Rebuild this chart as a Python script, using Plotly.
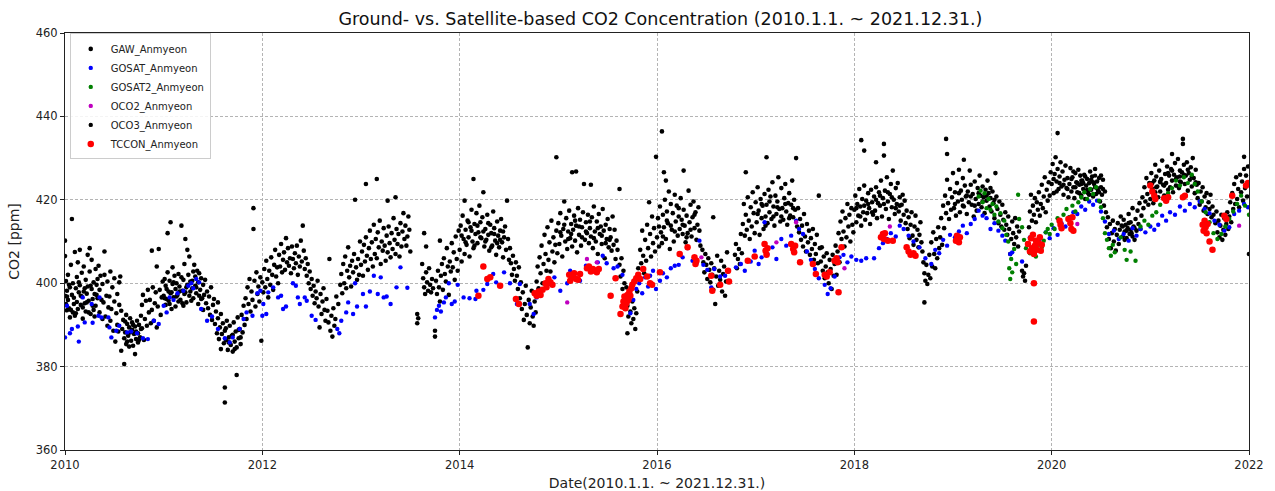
import plotly.graph_objects as go

# ---- data: (decimal year, CO2 ppm) ----
gaw_pts = [
(2010.00,410.2),(2010.00,406.5),(2010.00,397.0),(2010.01,400.5),(2010.01,395.0),(2010.02,393.5),(2010.02,398.2),(2010.03,402.0),(2010.03,396.0),(2010.04,394.0),(2010.05,391.8),(2010.05,399.0),(2010.06,404.4),(2010.07,415.4),(2010.07,397.2),(2010.08,393.0),(2010.08,400.0),(2010.09,396.5),(2010.10,407.5),(2010.10,392.2),(2010.11,398.8),(2010.12,395.5),(2010.12,401.5),(2010.13,405.0),(2010.13,393.8),(2010.14,397.8),(2010.15,408.0),(2010.15,399.5),(2010.16,394.8),(2010.17,402.5),(2010.17,396.8),(2010.18,391.5),(2010.19,398.0),(2010.19,404.0),(2010.20,395.2),(2010.21,400.8),(2010.21,393.2),(2010.22,397.5),(2010.23,406.8),(2010.23,399.2),(2010.24,395.8),(2010.25,408.4),(2010.25,402.8),(2010.26,392.6),(2010.27,398.6),(2010.27,405.6),(2010.28,396.2),(2010.29,400.2),(2010.29,393.6),(2010.30,397.4),(2010.31,403.4),(2010.31,394.6),(2010.32,399.6),(2010.33,396.4),(2010.33,401.0),
(2010.34,404.2),(2010.35,398.4),(2010.35,393.0),(2010.36,401.8),(2010.37,396.0),(2010.38,391.4),(2010.38,399.8),(2010.39,395.4),(2010.40,407.6),(2010.40,402.0),(2010.41,392.0),(2010.42,397.0),(2010.43,400.4),(2010.43,389.8),(2010.44,394.2),(2010.45,396.8),(2010.46,402.8),(2010.46,391.0),(2010.47,393.8),(2010.48,399.0),(2010.49,388.6),(2010.50,395.6),(2010.50,401.2),(2010.51,386.0),(2010.52,392.8),(2010.53,390.0),(2010.53,397.4),(2010.54,388.4),(2010.55,394.8),(2010.55,400.2),
(2010.56,401.6),(2010.57,393.4),(2010.57,383.8),(2010.58,389.0),(2010.59,391.2),(2010.60,380.6),(2010.60,386.8),(2010.61,388.2),(2010.62,392.4),(2010.62,385.4),(2010.63,390.2),(2010.64,387.4),(2010.65,389.4),(2010.65,384.8),(2010.66,391.6),(2010.67,386.2),(2010.68,388.8),(2010.68,390.6),(2010.69,385.0),(2010.70,387.8),(2010.71,389.6),(2010.71,383.0),(2010.72,386.6),(2010.73,391.0),(2010.74,388.0),(2010.74,385.8),(2010.75,390.0),(2010.76,387.0),(2010.77,392.2),(2010.78,394.8),(2010.78,389.2),(2010.79,397.2),(2010.80,386.4),(2010.81,391.4),(2010.82,395.8),(2010.83,389.8),(2010.84,398.4),(2010.85,393.0),
(2010.86,396.0),(2010.87,390.4),(2010.88,407.8),(2010.88,393.6),(2010.89,399.0),(2010.90,391.0),(2010.91,395.2),(2010.92,397.8),(2010.93,404.0),(2010.93,389.4),(2010.94,394.4),(2010.95,408.2),(2010.96,398.4),(2010.97,392.4),(2010.98,396.6),(2010.99,400.4),
(2011.00,397.0),(2011.01,401.0),(2011.02,394.8),(2011.02,399.4),(2011.03,396.2),(2011.04,412.0),(2011.04,402.6),(2011.05,398.0),(2011.06,395.0),(2011.06,400.6),(2011.07,414.6),(2011.07,397.6),(2011.08,393.8),(2011.09,399.8),(2011.09,403.8),(2011.10,396.6),(2011.11,401.8),(2011.12,398.6),(2011.12,394.4),(2011.13,400.0),(2011.14,397.2),(2011.15,402.2),(2011.15,395.6),(2011.16,399.2),(2011.17,396.0),(2011.18,413.8),(2011.18,401.4),(2011.19,398.2),(2011.20,394.6),(2011.20,400.8),(2011.21,404.6),(2011.22,397.8),(2011.22,410.6),(2011.23,395.4),(2011.24,408.0),(2011.24,399.6),(2011.25,402.0),(2011.26,406.4),(2011.26,397.0),(2011.27,400.4),(2011.28,395.8),(2011.29,398.8),(2011.30,402.8),(2011.30,396.4),
(2011.31,404.4),(2011.32,399.4),(2011.32,401.6),(2011.33,397.6),(2011.34,403.0),(2011.35,400.2),(2011.35,395.0),(2011.36,402.4),(2011.37,398.4),(2011.38,401.2),(2011.39,396.4),(2011.40,399.6),(2011.40,393.6),(2011.41,397.2),(2011.42,400.8),(2011.43,395.2),(2011.44,398.0),(2011.45,394.0),(2011.46,396.8),(2011.47,392.4),(2011.48,399.0),(2011.49,391.2),(2011.50,394.8),
(2011.51,396.2),(2011.52,390.2),(2011.53,393.2),(2011.54,388.0),(2011.55,395.4),(2011.55,391.6),(2011.56,386.6),(2011.57,389.4),(2011.58,392.6),(2011.58,384.2),(2011.59,387.8),(2011.60,390.4),(2011.61,385.6),(2011.62,388.6),(2011.62,375.0),(2011.62,371.4),(2011.63,386.4),(2011.64,391.0),(2011.65,384.0),(2011.66,387.0),(2011.67,389.8),(2011.68,385.2),
(2011.69,387.4),(2011.70,383.6),(2011.71,390.6),(2011.72,386.0),(2011.73,388.4),(2011.74,378.0),(2011.74,384.6),(2011.75,391.8),(2011.76,386.8),(2011.77,389.0),(2011.78,385.4),(2011.79,392.4),(2011.80,388.2),(2011.81,394.6),(2011.82,390.0),(2011.83,396.4),(2011.84,391.4),(2011.85,399.0),
(2011.86,395.0),(2011.87,401.0),(2011.88,393.2),(2011.89,398.0),(2011.90,396.0),(2011.91,418.0),(2011.91,413.0),(2011.92,400.6),(2011.93,394.4),(2011.94,402.6),(2011.95,397.4),(2011.96,399.2),(2011.97,395.6),(2011.98,401.4),(2011.99,386.2),
(2012.00,400.2),(2012.01,397.8),(2012.02,403.4),(2012.03,399.0),(2012.04,405.4),(2012.05,401.0),(2012.06,396.6),(2012.07,403.0),(2012.08,399.6),(2012.09,406.2),(2012.10,402.0),(2012.11,398.4),(2012.12,404.4),(2012.13,408.0),(2012.14,401.6),(2012.15,403.8),(2012.16,400.0),(2012.17,406.8),(2012.18,404.0),(2012.19,409.4),(2012.20,402.6),(2012.21,405.6),(2012.22,407.4),(2012.23,403.2),(2012.24,410.8),(2012.25,405.0),(2012.26,408.4),(2012.27,404.2),(2012.28,406.0),(2012.29,402.4),(2012.30,408.8),
(2012.31,405.8),(2012.32,403.6),(2012.33,407.2),(2012.34,404.8),(2012.35,409.0),(2012.36,402.0),(2012.37,406.4),(2012.38,404.0),(2012.39,410.2),(2012.40,405.2),(2012.41,413.8),(2012.42,407.8),(2012.43,403.4),(2012.44,406.0),(2012.45,401.8),(2012.46,404.6),(2012.47,400.0),(2012.48,402.8),(2012.49,398.6),(2012.50,401.0),(2012.51,397.0),(2012.52,399.4),(2012.53,395.2),(2012.54,398.0),(2012.55,396.4),
(2012.56,400.6),(2012.57,394.4),(2012.58,389.4),(2012.59,397.4),(2012.60,392.6),(2012.61,395.6),(2012.62,398.8),(2012.63,393.6),(2012.64,391.0),(2012.65,396.2),(2012.66,393.4),(2012.67,390.6),(2012.68,405.8),(2012.69,388.6),(2012.70,392.2),(2012.71,387.2),(2012.72,394.0),(2012.73,389.8),(2012.74,391.4),(2012.75,396.8),
(2012.77,395.0),(2012.79,399.6),(2012.80,402.2),(2012.81,397.6),(2012.82,404.6),(2012.83,400.0),(2012.84,406.4),(2012.85,398.8),(2012.86,403.0),(2012.87,408.6),(2012.88,401.4),(2012.89,404.2),(2012.90,399.2),(2012.91,405.4),(2012.92,402.6),(2012.93,407.0),(2012.94,420.0),(2012.95,403.8),(2012.96,400.8),(2012.97,405.8),(2012.98,402.0),(2012.99,410.0),
(2013.00,404.4),(2013.01,407.6),(2013.02,401.8),(2013.03,409.2),(2013.04,405.2),(2013.05,423.8),(2013.05,411.0),(2013.06,406.6),(2013.07,403.2),(2013.08,408.4),(2013.09,412.6),(2013.10,405.8),(2013.11,409.8),(2013.12,404.0),(2013.13,414.0),(2013.14,407.0),(2013.15,410.6),(2013.16,425.0),(2013.16,406.0),(2013.17,412.2),(2013.18,408.6),(2013.19,415.0),(2013.20,404.6),(2013.21,410.0),(2013.22,407.8),(2013.23,413.2),(2013.24,409.0),(2013.25,405.4),
(2013.26,411.4),(2013.27,419.8),(2013.27,407.4),(2013.28,413.6),(2013.29,409.6),(2013.30,406.2),(2013.31,412.0),(2013.32,408.2),(2013.33,415.6),(2013.34,410.4),(2013.35,420.6),(2013.35,407.0),(2013.36,413.0),(2013.37,409.4),(2013.38,411.8),(2013.39,406.4),(2013.40,414.4),(2013.41,408.8),(2013.42,412.4),(2013.43,416.8),(2013.44,410.6),(2013.45,413.8),(2013.46,409.0),(2013.47,411.2),(2013.48,416.0),(2013.49,412.8),(2013.50,407.6),
(2013.57,392.6),(2013.57,390.4),(2013.58,391.6),(2013.62,404.6),(2013.63,401.2),(2013.64,399.0),(2013.64,412.0),(2013.65,397.4),(2013.66,408.8),(2013.66,402.6),(2013.67,400.2),(2013.68,398.2),(2013.69,403.6),(2013.70,399.6),(2013.71,397.8),(2013.72,401.0),(2013.73,398.8),
(2013.75,388.6),(2013.75,387.2),(2013.76,400.6),(2013.77,397.4),(2013.78,403.0),(2013.79,399.0),(2013.80,410.2),(2013.80,395.6),(2013.81,401.8),(2013.82,404.6),(2013.83,398.4),(2013.84,406.0),(2013.85,402.2),(2013.86,400.4),(2013.87,408.4),(2013.88,404.0),(2013.89,397.2),(2013.90,405.2),(2013.91,402.8),(2013.92,409.6),(2013.93,403.8),(2013.94,407.4),(2013.95,400.8),(2013.96,411.2),(2013.97,405.8),(2013.98,403.0),(2013.99,412.6),
(2014.00,408.0),(2014.01,413.8),(2014.02,405.2),(2014.03,416.2),(2014.04,410.6),(2014.05,419.8),(2014.05,407.0),(2014.06,412.8),(2014.07,409.2),(2014.08,415.0),(2014.09,411.0),(2014.10,406.4),(2014.11,413.4),(2014.12,417.6),(2014.13,410.0),(2014.14,425.0),(2014.14,408.4),(2014.15,414.2),(2014.16,411.8),(2014.17,416.8),(2014.18,409.6),(2014.19,412.2),(2014.20,418.6),(2014.21,414.6),(2014.22,410.8),(2014.23,415.8),(2014.24,421.8),(2014.24,412.4),
(2014.25,408.8),(2014.26,413.0),(2014.27,410.4),(2014.28,416.4),(2014.29,411.6),(2014.30,407.8),(2014.31,414.0),(2014.32,412.0),(2014.33,409.0),(2014.34,417.2),(2014.35,413.2),(2014.36,410.2),(2014.37,406.8),(2014.38,414.8),(2014.39,411.4),(2014.40,408.6),(2014.41,412.6),(2014.42,415.4),(2014.43,409.8),(2014.44,406.2),(2014.45,411.0),(2014.46,413.6),(2014.47,408.0),(2014.48,419.8),(2014.49,410.6),(2014.50,405.6),
(2014.51,408.4),(2014.52,404.8),(2014.53,402.0),(2014.54,406.6),(2014.55,403.4),(2014.56,400.6),(2014.57,405.0),(2014.58,401.8),(2014.59,398.6),(2014.60,403.8),(2014.61,396.4),(2014.62,400.2),(2014.63,393.8),(2014.64,397.8),(2014.65,391.2),(2014.66,395.0),(2014.67,399.4),(2014.68,392.4),(2014.69,384.6),(2014.70,396.0),(2014.71,390.4),(2014.72,394.2),(2014.73,398.2),(2014.74,392.0),(2014.75,389.8),(2014.76,395.6),(2014.77,393.0),
(2014.78,400.4),(2014.79,404.0),(2014.80,398.8),(2014.81,406.2),(2014.82,402.4),(2014.83,409.0),(2014.84,400.0),(2014.85,404.6),(2014.86,411.6),(2014.87,407.0),(2014.88,403.0),(2014.89,413.4),(2014.90,405.6),(2014.91,409.8),(2014.92,402.8),(2014.93,415.0),(2014.94,407.6),(2014.95,411.0),(2014.96,405.0),(2014.97,409.2),(2014.98,430.2),(2014.98,412.6),(2014.99,407.2),
(2015.00,414.4),(2015.01,409.4),(2015.02,416.8),(2015.03,411.4),(2015.04,406.4),(2015.05,413.0),(2015.06,419.6),(2015.07,410.0),(2015.08,415.6),(2015.09,408.2),(2015.10,412.4),(2015.11,417.4),(2015.12,410.8),(2015.13,414.2),(2015.14,426.6),(2015.14,408.8),(2015.15,412.8),(2015.16,416.2),(2015.17,410.2),(2015.18,426.8),(2015.18,413.8),(2015.19,407.4),(2015.20,418.0),(2015.21,411.6),(2015.22,415.2),(2015.23,409.0),(2015.24,413.4),(2015.25,417.0),(2015.26,423.8),(2015.27,410.4),(2015.28,414.6),(2015.29,412.0),
(2015.30,416.4),(2015.31,409.6),(2015.32,413.2),(2015.33,423.6),(2015.33,411.2),(2015.34,415.8),(2015.35,408.4),(2015.36,418.4),(2015.37,412.4),(2015.38,410.0),(2015.39,414.8),(2015.40,407.0),(2015.41,416.6),(2015.42,411.8),(2015.43,413.6),(2015.44,409.4),(2015.45,417.8),(2015.46,412.6),(2015.47,406.0),(2015.48,414.0),(2015.49,410.6),(2015.50,415.4),(2015.51,408.6),(2015.52,413.0),(2015.53,411.0),(2015.54,407.8),(2015.55,416.0),(2015.56,409.2),(2015.57,412.8),(2015.58,405.8),(2015.59,410.2),(2015.60,408.0),
(2015.62,422.6),(2015.62,404.4),(2015.63,401.6),(2015.64,406.0),(2015.65,398.6),(2015.66,403.0),(2015.67,400.0),(2015.68,396.4),(2015.69,399.0),(2015.70,388.0),(2015.70,394.6),(2015.71,392.0),(2015.72,397.6),(2015.73,393.2),(2015.74,390.4),(2015.75,395.6),(2015.76,391.4),(2015.77,394.0),(2015.78,389.0),(2015.79,392.8),
(2015.80,398.0),(2015.81,403.6),(2015.82,400.8),(2015.83,408.0),(2015.84,404.8),(2015.85,412.6),(2015.86,406.6),(2015.87,402.4),(2015.88,410.4),(2015.89,405.4),(2015.90,414.0),(2015.91,408.4),(2015.92,419.4),(2015.93,411.8),(2015.94,406.4),(2015.95,416.0),(2015.96,409.6),(2015.97,413.2),(2015.98,407.6),(2015.99,430.3),
(2016.00,411.0),(2016.01,415.6),(2016.02,408.8),(2016.03,418.4),(2016.04,412.2),(2016.05,436.4),(2016.05,409.6),(2016.06,416.4),(2016.07,426.6),(2016.07,413.4),(2016.08,420.0),(2016.09,424.6),(2016.09,410.6),(2016.10,417.2),(2016.11,414.4),(2016.12,422.0),(2016.13,408.2),(2016.14,419.0),(2016.15,412.8),(2016.16,416.8),(2016.17,410.0),(2016.18,421.2),(2016.19,414.8),(2016.20,418.6),(2016.21,411.4),(2016.22,416.0),(2016.23,413.0),(2016.24,420.4),
(2016.25,415.2),(2016.26,411.8),(2016.27,427.0),(2016.27,417.6),(2016.28,413.8),(2016.29,409.8),(2016.30,416.2),(2016.31,412.0),(2016.32,422.2),(2016.33,414.6),(2016.34,418.8),(2016.35,411.2),(2016.36,415.8),(2016.37,419.6),(2016.38,413.2),(2016.39,417.0),(2016.40,410.4),(2016.41,414.0),(2016.42,418.2),(2016.43,412.6),(2016.44,409.0),
(2016.46,408.0),(2016.47,405.0),(2016.48,402.6),(2016.49,407.0),(2016.50,404.4),(2016.51,401.0),(2016.52,406.0),(2016.53,403.2),(2016.54,400.2),(2016.55,404.8),(2016.56,402.0),(2016.57,415.8),(2016.57,398.4),(2016.58,403.6),(2016.59,395.0),(2016.60,401.6),(2016.61,406.6),(2016.62,399.4),(2016.63,403.0),(2016.64,400.8),(2016.65,405.4),(2016.66,398.0),(2016.67,402.2),(2016.68,404.0),(2016.69,397.0),(2016.70,400.4),(2016.71,407.4),(2016.72,402.8),
(2016.79,406.8),(2016.80,409.4),(2016.81,403.6),(2016.82,405.8),(2016.83,408.2),(2016.84,404.6),(2016.85,411.8),(2016.86,407.2),
(2016.87,414.2),(2016.88,419.0),(2016.89,411.4),(2016.90,426.6),(2016.90,416.4),(2016.91,412.8),(2016.92,420.6),(2016.93,415.0),(2016.94,410.6),(2016.95,418.2),(2016.96,413.6),(2016.97,421.8),(2016.98,416.8),(2016.99,412.0),(2017.00,419.4),(2017.01,414.6),(2017.02,423.0),(2017.03,417.4),(2017.04,411.6),(2017.05,420.2),(2017.06,415.6),(2017.07,418.6),(2017.08,413.0),(2017.09,421.4),(2017.10,416.0),
(2017.11,430.2),(2017.11,418.8),(2017.12,414.4),(2017.13,422.4),(2017.14,417.0),(2017.15,420.8),(2017.16,415.4),(2017.17,424.2),(2017.18,418.4),(2017.19,413.8),(2017.20,421.0),(2017.21,416.6),(2017.22,419.6),(2017.23,425.4),(2017.24,417.8),(2017.25,414.8),(2017.26,422.8),(2017.27,418.0),(2017.28,415.2),(2017.29,420.4),(2017.30,423.8),(2017.31,417.2),(2017.32,414.0),(2017.33,419.2),(2017.34,421.6),(2017.35,416.2),(2017.36,418.8),(2017.37,424.6),(2017.38,415.8),(2017.39,420.0),(2017.40,417.6),(2017.41,430.0),(2017.42,413.6),
(2017.43,418.0),(2017.44,412.2),(2017.45,415.4),(2017.46,410.4),(2017.47,413.8),(2017.48,408.8),(2017.49,416.6),(2017.50,411.2),(2017.51,407.6),(2017.52,414.2),(2017.53,409.8),(2017.54,412.6),(2017.55,406.8),(2017.56,410.8),(2017.57,408.2),(2017.58,413.0),(2017.59,405.6),(2017.60,409.4),(2017.61,407.0),(2017.62,411.6),(2017.63,404.8),(2017.64,421.0),(2017.65,408.4),
(2017.66,405.2),(2017.67,408.6),(2017.68,403.0),(2017.69,406.4),(2017.70,401.2),(2017.71,404.0),(2017.72,407.2),(2017.73,402.6),(2017.74,400.0),(2017.75,405.6),(2017.76,403.4),(2017.77,398.6),(2017.78,406.8),(2017.79,401.8),(2017.80,404.6),(2017.81,409.0),(2017.82,402.0),(2017.83,407.6),(2017.84,412.0),(2017.85,405.0),
(2017.86,414.8),(2017.87,410.6),(2017.88,417.2),(2017.89,412.4),(2017.90,408.8),(2017.91,415.6),(2017.92,411.0),(2017.93,419.0),(2017.94,413.6),(2017.95,416.4),(2017.96,410.0),(2017.97,418.0),(2017.98,414.0),(2017.99,412.2),
(2018.00,417.6),(2018.01,421.0),(2018.02,414.6),(2018.03,419.0),(2018.04,416.2),(2018.05,422.6),(2018.06,418.4),(2018.07,434.3),(2018.07,413.8),(2018.08,420.2),(2018.09,417.0),(2018.10,431.8),(2018.10,423.4),(2018.11,415.2),(2018.12,419.8),(2018.13,416.8),(2018.14,421.6),(2018.15,418.0),(2018.16,414.2),(2018.17,422.4),(2018.18,419.4),(2018.19,416.4),(2018.20,420.8),(2018.21,417.4),(2018.22,429.0),(2018.22,423.0),(2018.23,415.6),(2018.24,419.2),(2018.25,421.8),
(2018.26,418.6),(2018.27,424.6),(2018.28,416.0),(2018.29,420.4),(2018.30,433.4),(2018.30,430.6),(2018.31,422.2),(2018.32,417.8),(2018.33,425.4),(2018.34,419.6),(2018.35,415.4),(2018.36,421.4),(2018.37,423.8),(2018.38,418.2),(2018.39,427.0),(2018.40,420.0),(2018.41,416.6),(2018.42,422.8),(2018.43,419.0),(2018.44,424.0),(2018.45,417.2),(2018.46,420.6),(2018.47,415.0),(2018.48,418.8),(2018.49,421.2),(2018.50,416.4),(2018.51,419.8),(2018.52,414.4),
(2018.53,417.4),(2018.54,413.0),(2018.55,415.8),(2018.56,410.8),(2018.57,414.0),(2018.58,417.0),(2018.59,411.4),(2018.60,409.2),(2018.61,413.6),(2018.62,416.2),(2018.63,410.4),(2018.64,412.8),(2018.65,408.6),(2018.66,411.6),(2018.67,414.6),(2018.68,409.8),(2018.69,407.6),
(2018.70,405.0),(2018.71,395.4),(2018.71,402.4),(2018.72,400.6),(2018.73,404.4),(2018.74,399.8),(2018.75,402.0),(2018.76,406.8),(2018.77,401.2),(2018.78,409.8),(2018.79,404.0),(2018.80,412.2),(2018.81,407.0),(2018.82,403.6),(2018.83,410.6),(2018.84,406.0),(2018.85,413.4),(2018.86,408.4),(2018.87,411.0),(2018.88,415.6),(2018.89,409.2),
(2018.90,418.6),(2018.91,413.2),(2018.92,421.0),(2018.93,434.6),(2018.93,416.8),(2018.94,431.0),(2018.94,424.8),(2018.95,419.2),(2018.96,415.4),(2018.97,422.6),(2018.98,417.6),(2018.99,420.6),(2019.00,426.4),(2019.01,418.0),(2019.02,421.8),(2019.03,416.2),(2019.04,424.0),(2019.05,419.6),(2019.06,427.2),(2019.07,417.0),(2019.08,422.2),(2019.09,420.0),(2019.10,425.2),(2019.11,429.6),(2019.11,418.4),(2019.12,423.4),(2019.13,420.8),(2019.14,416.6),(2019.15,422.0),
(2019.16,419.4),(2019.17,427.0),(2019.18,423.6),(2019.19,418.8),(2019.20,421.4),(2019.21,416.0),(2019.22,424.4),(2019.23,420.2),(2019.24,417.4),(2019.25,422.8),(2019.26,419.0),(2019.27,425.8),(2019.28,421.0),(2019.29,418.2),(2019.30,423.2),(2019.31,420.6),(2019.32,416.8),(2019.33,422.4),(2019.34,419.8),(2019.35,424.6),(2019.36,421.6),(2019.37,418.4),(2019.38,420.4),(2019.39,417.2),(2019.40,422.0),(2019.41,419.2),(2019.42,415.6),(2019.43,426.4),(2019.44,420.8),(2019.45,417.8),(2019.46,414.4),(2019.47,419.6),(2019.48,416.4),(2019.49,413.6),
(2019.50,418.8),(2019.51,415.2),(2019.52,412.8),(2019.53,417.0),(2019.54,414.0),(2019.55,411.6),(2019.56,416.0),(2019.57,413.0),(2019.58,407.0),(2019.59,410.6),(2019.60,414.8),(2019.61,412.0),(2019.62,409.4),(2019.63,415.6),(2019.64,411.0),(2019.65,413.6),(2019.66,408.8),(2019.67,412.4),
(2019.70,403.0),(2019.71,401.6),(2019.72,402.4),(2019.73,400.6),(2019.74,404.2),
(2019.77,413.4),(2019.78,417.2),(2019.79,421.2),(2019.80,415.0),(2019.81,418.6),(2019.82,416.4),(2019.83,420.4),(2019.84,414.6),(2019.85,419.4),(2019.86,417.6),(2019.87,421.8),(2019.88,416.2),(2019.89,419.0),(2019.90,423.6),(2019.91,418.0),(2019.92,420.8),(2019.93,425.4),(2019.94,417.0),(2019.95,422.4),(2019.96,419.8),(2019.97,424.2),(2019.98,421.0),(2019.99,426.6),
(2020.00,423.8),(2020.01,428.6),(2020.02,421.6),(2020.03,426.2),(2020.04,430.2),(2020.05,424.4),(2020.06,436.0),(2020.06,427.4),(2020.07,422.6),(2020.08,425.6),(2020.09,429.0),(2020.10,423.2),(2020.11,426.8),(2020.12,421.2),(2020.13,424.8),(2020.14,428.2),(2020.15,422.8),(2020.16,425.2),(2020.17,420.6),(2020.18,423.8),(2020.19,427.6),
(2020.20,422.0),(2020.21,425.4),(2020.22,423.0),(2020.23,420.4),(2020.24,426.4),(2020.25,424.2),(2020.26,421.8),(2020.27,427.2),(2020.28,423.6),(2020.29,425.8),(2020.30,421.0),(2020.31,424.6),(2020.32,422.6),(2020.33,426.0),(2020.34,420.2),(2020.35,423.4),(2020.36,425.0),(2020.37,421.6),(2020.38,424.0),(2020.39,426.8),(2020.40,422.4),(2020.41,425.6),(2020.42,420.8),(2020.43,423.8),(2020.44,427.4),(2020.45,421.4),(2020.46,424.4),(2020.47,422.2),(2020.48,425.2),(2020.49,419.6),(2020.50,423.0),(2020.51,421.2),(2020.52,424.8),(2020.53,418.6),(2020.54,422.0),
(2020.22,426.8),(2020.26,424.0),(2020.30,423.8),(2020.34,425.6),(2020.38,421.2),(2020.42,424.2),(2020.46,422.8),(2020.50,425.8),
(2020.55,417.0),(2020.56,413.4),(2020.57,415.8),(2020.58,410.6),(2020.59,414.2),(2020.60,408.4),(2020.61,412.0),(2020.62,415.0),(2020.63,410.0),(2020.64,413.0),(2020.65,407.8),(2020.66,411.6),(2020.67,414.4),(2020.68,409.4),(2020.69,412.8),(2020.70,416.0),
(2020.71,413.8),(2020.72,411.2),(2020.73,415.2),(2020.74,412.4),(2020.75,414.0),(2020.76,410.8),(2020.77,413.2),(2020.78,416.6),(2020.79,411.8),(2020.80,414.6),(2020.81,412.0),(2020.82,418.0),(2020.83,413.6),(2020.84,410.4),(2020.85,415.4),(2020.86,412.6),(2020.87,417.4),(2020.88,414.2),(2020.89,419.2),(2020.90,413.0),(2020.91,416.2),
(2020.92,420.6),(2020.93,418.0),(2020.94,423.0),(2020.95,419.6),(2020.96,425.2),(2020.97,421.4),(2020.98,418.8),(2020.99,424.0),(2021.00,420.2),(2021.01,426.4),(2021.02,422.6),(2021.03,419.2),(2021.04,424.6),(2021.05,428.4),(2021.05,421.8),(2021.06,425.6),(2021.07,423.2),(2021.08,420.6),(2021.09,427.0),(2021.10,422.0),(2021.11,425.0),(2021.12,429.4),(2021.13,423.6),(2021.14,421.0),(2021.15,426.2),(2021.16,424.0),(2021.17,428.0),(2021.18,422.4),(2021.19,425.8),
(2021.20,423.0),(2021.21,427.4),(2021.22,431.0),(2021.22,424.6),(2021.23,421.8),(2021.24,426.0),(2021.25,428.8),(2021.26,423.4),(2021.27,425.4),(2021.28,429.8),(2021.29,422.8),(2021.30,427.0),(2021.31,424.2),(2021.32,426.6),(2021.33,434.6),(2021.33,433.4),(2021.34,428.4),(2021.35,423.8),(2021.36,425.8),(2021.37,429.0),(2021.38,422.2),(2021.39,426.4),(2021.40,424.8),(2021.41,427.8),(2021.42,423.2),(2021.43,430.0),(2021.44,425.2),(2021.45,421.6),(2021.46,427.2),
(2021.47,423.6),(2021.48,420.4),(2021.49,424.0),(2021.50,418.8),(2021.51,422.0),(2021.52,419.6),(2021.53,423.0),(2021.54,417.4),(2021.55,420.8),(2021.56,418.2),(2021.57,421.6),(2021.58,416.6),(2021.59,419.4),(2021.60,417.8),(2021.61,421.2),(2021.62,415.8),(2021.63,418.4),(2021.64,416.4),
(2021.66,414.4),(2021.67,417.2),(2021.68,412.2),(2021.69,415.0),(2021.70,411.0),(2021.71,413.8),(2021.72,416.4),(2021.73,410.4),(2021.74,412.8),(2021.75,415.6),(2021.76,411.6),(2021.77,414.2),(2021.78,417.0),(2021.79,413.0),
(2021.80,416.0),(2021.81,419.4),(2021.82,414.6),(2021.83,421.6),(2021.84,417.8),(2021.85,423.8),(2021.86,419.0),(2021.87,425.4),(2021.88,420.2),(2021.89,422.6),(2021.90,418.2),(2021.91,426.0),(2021.92,421.8),(2021.93,424.4),(2021.94,419.8),(2021.95,430.3),(2021.95,427.4),(2021.96,422.8),(2021.97,425.8),(2021.98,420.8),(2021.99,428.0),(2022.00,407.0),
]

# extra GAW readings in the densest parts of each seasonal cloud
gaw_dense_pts = [
(2010.02,396.8),(2010.04,399.6),(2010.06,393.6),(2010.09,395.0),(2010.11,392.8),(2010.14,400.2),(2010.16,397.0),(2010.18,394.2),(2010.20,398.8),(2010.22,395.4),(2010.24,393.0),(2010.26,399.4),(2010.28,394.6),(2010.30,392.0),(2010.32,397.2),
(2011.01,396.4),(2011.03,398.6),(2011.05,395.8),(2011.08,397.8),(2011.10,400.2),(2011.13,396.8),(2011.16,398.0),(2011.19,395.2),(2011.21,397.4),(2011.23,399.0),(2011.27,398.0),(2011.29,400.6),(2011.33,399.0),(2011.36,397.0),(2011.38,396.2),
(2010.61,390.8),(2010.63,386.0),(2010.66,388.2),(2010.69,390.0),(2010.72,388.4),(2010.75,386.4),(2010.77,389.0),
(2011.63,389.2),(2011.66,385.8),(2011.70,387.6),(2011.72,384.2),(2011.76,388.8),(2011.78,387.0),
(2014.02,411.4),(2014.06,409.8),(2014.09,414.6),(2014.12,412.6),(2014.15,409.0),(2014.18,413.8),(2014.21,411.0),(2014.26,410.0),(2014.29,414.4),(2014.32,408.6),(2014.35,411.8),(2014.38,409.6),(2014.41,410.4),(2014.44,412.4),
(2015.02,412.2),(2015.06,414.0),(2015.10,410.6),(2015.13,411.8),(2015.17,415.0),(2015.21,413.6),(2015.24,411.0),(2015.28,412.4),(2015.32,414.8),(2015.36,410.8),(2015.40,413.2),(2015.44,411.4),(2015.48,409.6),(2015.52,410.4),
(2016.02,413.6),(2016.06,411.2),(2016.10,415.0),(2016.14,413.8),(2016.18,412.4),(2016.22,418.0),(2016.26,414.0),(2016.30,411.0),(2016.34,412.8),(2016.38,416.4),
(2017.02,416.6),(2017.06,419.0),(2017.10,413.8),(2017.14,419.6),(2017.18,416.0),(2017.22,418.2),(2017.26,416.0),(2017.30,419.0),(2017.34,415.6),(2017.38,418.0),
(2018.02,418.0),(2018.06,416.0),(2018.10,418.6),(2018.14,419.0),(2018.18,417.0),(2018.22,420.0),(2018.26,421.0),(2018.30,419.0),(2018.34,421.8),(2018.38,420.6),(2018.42,418.0),(2018.46,418.6),
(2019.02,419.0),(2019.06,421.6),(2019.10,418.6),(2019.14,421.0),(2019.18,420.8),(2019.22,418.6),(2019.26,421.6),(2019.30,419.6),(2019.34,421.0),(2019.38,422.8),(2019.42,420.0),
(2020.02,425.0),(2020.05,422.0),(2020.08,424.0),(2020.12,423.6),(2020.16,422.6),(2020.20,425.0),(2020.24,423.0),(2020.28,421.6),(2020.32,424.0),(2020.36,422.4),(2020.40,424.8),(2020.44,423.0),(2020.48,421.8),(2020.52,422.6),
(2020.72,413.6),(2020.74,410.4),(2020.76,412.6),(2020.78,414.4),(2020.80,412.8),(2020.82,411.2),(2020.84,413.2),
(2021.02,424.0),(2021.06,423.0),(2021.10,424.4),(2021.14,423.4),(2021.18,426.4),(2021.22,427.0),(2021.26,425.0),(2021.30,424.4),(2021.34,426.0),(2021.38,427.2),(2021.42,425.6),(2021.46,424.2),
]

gosat_pts = [
(2010.00,387.0),(2010.02,394.6),(2010.05,388.0),(2010.07,389.0),(2010.13,389.6),(2010.14,386.0),(2010.18,396.6),(2010.20,390.6),(2010.27,395.0),(2010.28,390.5),(2010.34,392.2),(2010.35,396.6),(2010.37,391.8),(2010.44,391.8),(2010.45,389.4),(2010.47,387.0),(2010.52,388.6),(2010.55,389.8),(2010.63,388.2),(2010.67,388.4),(2010.73,388.0),(2010.79,386.8),(2010.84,386.6),(2010.90,391.0),(2010.95,390.2),
(2011.00,394.6),(2011.03,393.0),(2011.06,396.6),(2011.10,396.0),(2011.14,397.6),(2011.20,398.2),(2011.25,399.4),(2011.28,400.0),(2011.30,398.8),(2011.33,401.0),(2011.36,400.2),(2011.38,393.8),(2011.44,391.0),(2011.49,392.0),(2011.55,389.0),(2011.62,386.8),(2011.67,385.8),(2011.70,387.0),(2011.77,389.0),(2011.81,391.4),(2011.84,393.0),(2011.90,392.2),(2011.95,397.6),(2011.98,398.2),
(2012.00,392.2),(2012.01,395.0),(2012.04,392.6),(2012.06,397.8),(2012.11,399.0),(2012.16,396.6),(2012.19,397.0),(2012.21,393.8),(2012.24,394.4),(2012.31,400.0),(2012.34,399.4),(2012.36,396.6),(2012.38,395.0),(2012.43,396.6),(2012.45,395.8),(2012.50,392.2),(2012.54,391.2),(2012.76,389.0),(2012.78,388.0),(2012.80,391.0),(2012.85,393.0),(2012.87,395.4),(2012.92,392.6),(2012.94,400.0),(2012.96,394.4),
(2013.02,397.4),(2013.05,394.4),(2013.09,398.0),(2013.13,401.8),(2013.17,397.4),(2013.20,401.4),(2013.23,396.6),(2013.26,396.8),(2013.30,395.0),(2013.36,399.0),(2013.40,403.8),(2013.47,398.9),
(2013.75,391.8),(2013.77,393.6),(2013.79,394.6),(2013.81,393.2),(2013.84,395.4),(2013.86,396.6),(2013.89,400.0),(2013.92,395.0),(2013.95,395.6),(2013.98,399.6),
(2014.04,396.6),(2014.10,396.4),(2014.16,396.2),(2014.17,398.2),(2014.24,398.4),(2014.28,399.8),(2014.34,402.2),(2014.37,400.2),(2014.45,402.6),(2014.51,400.0),(2014.58,395.0),(2014.61,399.8),(2014.71,395.0),(2014.75,392.6),(2014.78,396.6),(2014.82,398.2),(2014.89,400.2),(2014.92,399.8),(2014.96,401.4),(2015.02,398.2),(2015.09,400.0),
(2015.12,403.0),(2015.17,401.4),(2015.22,400.6),(2015.28,404.2),(2015.33,403.4),(2015.40,405.0),(2015.45,406.6),(2015.49,404.8),(2015.56,403.6),(2015.60,404.0),(2015.65,402.0),(2015.70,395.4),(2015.73,392.8),(2015.76,396.0),(2015.79,398.6),(2015.82,400.0),(2015.85,397.6),(2015.88,401.4),(2015.91,399.2),(2015.93,401.8),(2015.96,403.0),(2015.99,398.6),
(2016.03,400.6),(2016.06,402.4),(2016.10,401.4),(2016.14,403.6),(2016.18,404.2),(2016.22,404.4),(2016.26,406.2),(2016.31,408.4),(2016.36,405.4),(2016.40,404.8),(2016.43,410.2),(2016.47,404.4),(2016.51,403.2),(2016.55,399.0),(2016.58,403.4),(2016.64,401.6),(2016.69,401.8),(2016.80,403.8),(2016.85,404.6),(2016.89,403.0),(2016.95,405.2),(2016.99,407.8),
(2017.03,404.6),(2017.06,406.2),(2017.09,414.6),(2017.12,407.0),(2017.17,408.6),(2017.21,405.8),(2017.26,410.6),(2017.31,409.0),(2017.36,411.4),(2017.41,415.0),(2017.44,413.0),(2017.48,411.8),(2017.52,407.6),(2017.56,405.6),(2017.60,403.4),(2017.64,401.2),(2017.70,399.6),(2017.73,397.4),(2017.76,398.8),(2017.80,401.6),(2017.85,406.2),(2017.89,406.8),(2017.93,405.0),(2017.97,406.4),
(2018.02,405.6),(2018.07,405.4),(2018.12,406.0),(2018.20,406.0),(2018.25,408.4),(2018.29,409.6),(2018.33,410.6),(2018.37,412.0),(2018.42,411.2),(2018.46,413.8),(2018.50,413.0),(2018.55,411.4),(2018.60,410.0),(2018.66,408.6),(2018.72,406.0),(2018.78,404.6),(2018.82,408.0),(2018.86,407.2),(2018.90,410.4),(2018.94,409.0),
(2018.97,411.6),(2019.02,411.0),(2019.06,412.4),(2019.10,413.8),(2019.14,412.0),(2019.18,414.2),(2019.22,415.4),(2019.26,417.4),(2019.30,416.2),(2019.34,415.6),(2019.38,413.0),(2019.42,414.4),(2019.46,412.6),(2019.50,411.4),(2019.53,410.2),(2019.58,407.0),(2019.60,407.4),(2019.70,405.2),(2019.78,411.0),(2019.83,408.4),(2019.88,410.6),(2019.94,412.2),(2019.98,410.8),
(2020.02,413.2),(2020.06,411.6),(2020.10,414.4),(2020.14,413.6),(2020.18,415.8),(2020.22,417.0),(2020.26,416.6),(2020.30,418.4),(2020.34,417.6),(2020.38,419.6),(2020.42,418.8),(2020.46,419.8),(2020.50,417.2),(2020.54,414.8),(2020.58,411.8),(2020.63,412.6),(2020.68,410.6),(2020.73,411.8),(2020.78,410.2),(2020.82,413.2),(2020.86,411.4),(2020.90,413.0),(2020.95,412.2),
(2021.00,413.6),(2021.04,412.8),(2021.08,414.0),(2021.12,416.2),(2021.16,415.0),(2021.20,417.0),(2021.25,416.4),(2021.30,418.4),(2021.35,417.4),(2021.40,419.0),(2021.45,418.2),(2021.50,419.6),(2021.55,417.8),(2021.60,416.8),(2021.65,415.0),(2021.70,414.0),(2021.75,412.6),(2021.80,413.4),(2021.85,416.6),(2021.90,417.4),(2021.95,419.0),(2021.99,418.2),
]

gosat2_pts = [
(2019.26,420.8),(2019.28,422.2),(2019.30,419.4),(2019.32,421.6),(2019.34,418.0),(2019.36,420.2),(2019.38,417.6),(2019.40,419.0),(2019.42,416.4),(2019.44,418.4),(2019.46,414.8),(2019.48,416.8),(2019.50,413.2),(2019.52,415.0),(2019.54,411.6),(2019.56,410.0),(2019.57,403.6),(2019.58,401.0),(2019.59,405.8),(2019.60,402.6),(2019.62,408.2),(2019.64,404.6),(2019.66,421.2),(2019.67,415.4),
(2019.70,413.4),(2019.72,410.4),(2019.74,408.4),(2019.76,409.6),(2019.78,407.2),(2019.80,410.8),(2019.82,408.0),(2019.84,406.4),(2019.86,409.2),(2019.88,411.0),(2019.90,408.6),(2019.92,410.2),(2019.94,412.2),(2019.96,413.0),(2019.98,411.8),
(2020.00,414.0),(2020.03,413.0),(2020.06,415.6),(2020.09,414.2),(2020.12,416.4),(2020.15,417.8),(2020.18,415.8),(2020.21,418.6),(2020.24,417.2),(2020.27,419.4),(2020.30,420.6),(2020.33,421.8),(2020.36,420.2),(2020.39,422.6),(2020.42,421.4),(2020.45,423.0),(2020.48,419.8),(2020.50,418.2),(2020.52,415.6),(2020.54,412.0),(2020.56,410.4),(2020.58,408.4),(2020.60,406.6),(2020.62,409.2),(2020.64,407.4),(2020.70,411.0),(2020.74,408.0),(2020.76,405.6),(2020.80,407.6),(2020.85,405.4),(2020.90,413.6),(2020.94,415.0),(2020.98,414.0),
(2021.02,416.2),(2021.06,417.0),(2021.10,418.8),(2021.14,420.4),(2021.18,421.6),(2021.22,422.8),(2021.26,424.6),(2021.30,423.4),(2021.34,425.4),(2021.38,424.0),(2021.42,426.0),(2021.45,423.8),(2021.48,422.0),(2021.52,419.6),(2021.56,417.0),(2021.60,414.6),(2021.64,412.0),(2021.68,410.6),(2021.72,411.8),(2021.76,413.6),(2021.80,415.4),(2021.84,417.2),(2021.88,419.0),(2021.92,421.0),(2021.96,418.6),(2022.00,416.4),
]

oco2_pts = [
(2015.09,395.4),(2015.29,405.8),(2015.39,405.0),(2016.45,406.2),(2017.21,409.8),(2017.41,414.6),(2017.90,403.6),(2018.36,413.6),(2020.26,414.2),(2021.90,413.8),
]

oco3_pts = [
(2020.30,424.6),(2020.44,425.8),(2021.10,424.2),(2021.30,425.6),
]

tccon_pts = [
(2014.19,397.0),(2014.24,404.0),(2014.28,401.0),(2014.31,401.4),(2014.41,399.4),(2014.57,396.2),(2014.60,395.0),
(2014.76,397.6),(2014.78,397.0),(2014.80,398.0),(2014.82,397.2),(2014.84,398.4),(2014.87,400.0),(2014.88,399.0),(2014.90,401.0),(2014.92,400.2),(2014.94,399.6),
(2015.11,402.0),(2015.12,400.6),(2015.14,401.4),(2015.16,402.4),(2015.18,401.0),(2015.20,400.8),(2015.22,402.2),
(2015.29,403.6),(2015.31,404.0),(2015.33,402.8),(2015.35,403.4),(2015.37,403.0),(2015.39,402.6),(2015.41,403.4),(2015.53,397.0),(2015.58,401.2),
(2015.63,392.6),(2015.65,394.4),(2015.66,395.6),(2015.67,396.8),(2015.68,394.0),(2015.69,395.2),(2015.70,397.2),(2015.71,396.0),(2015.72,398.0),(2015.73,397.0),(2015.74,398.8),(2015.75,399.6),(2015.77,400.4),(2015.79,401.2),(2015.81,402.0),(2015.83,401.0),(2015.86,403.4),
(2015.90,401.6),(2015.93,400.0),(2015.95,399.6),(2016.03,402.6),(2016.23,407.0),(2016.31,408.6),(2016.38,406.2),(2016.39,404.6),(2016.40,405.4),(2016.55,401.8),(2016.56,398.2),(2016.64,399.6),(2016.72,403.0),(2016.73,400.4),(2016.92,405.4),(2016.99,406.4),
(2017.09,409.4),(2017.10,407.8),(2017.11,406.8),(2017.12,408.4),(2017.36,409.4),(2017.38,408.2),(2017.39,407.4),(2017.40,409.0),(2017.45,405.0),(2017.58,404.6),(2017.61,402.2),(2017.70,402.0),(2017.72,401.6),(2017.75,402.6),(2017.80,405.4),(2017.82,406.0),(2017.83,405.0),(2017.84,397.8),(2017.87,408.6),
(2018.27,411.0),(2018.29,411.8),(2018.30,410.6),(2018.31,412.0),(2018.34,410.2),(2018.39,410.2),(2018.53,408.6),(2018.55,407.6),(2018.57,406.8),(2018.60,407.2),(2018.62,406.6),
(2019.03,410.2),(2019.04,411.4),(2019.05,410.6),(2019.06,409.8),(2019.07,411.0),
(2019.76,409.4),(2019.78,407.6),(2019.79,410.8),(2019.80,408.4),(2019.81,411.6),(2019.82,407.0),(2019.83,409.0),(2019.84,410.2),(2019.85,408.0),(2019.82,400.0),(2019.82,390.8),(2019.87,409.6),(2019.88,411.0),(2019.89,407.8),(2019.90,409.2),
(2020.08,415.0),(2020.09,414.0),(2020.10,413.2),(2020.17,415.4),(2020.19,414.4),(2020.20,413.0),(2020.21,415.8),(2020.22,412.6),
(2021.00,423.4),(2021.02,422.0),(2021.04,421.0),(2021.05,420.2),(2021.14,420.4),(2021.16,419.8),(2021.18,420.6),(2021.33,420.6),(2021.35,421.0),
(2021.53,414.0),(2021.54,412.6),(2021.55,415.0),(2021.56,413.4),(2021.57,412.0),(2021.58,414.2),(2021.60,410.0),(2021.63,408.0),
(2021.75,416.2),(2021.77,415.4),(2021.83,421.0),(2021.97,423.4),(2021.99,424.0),
]

x_ticks = [2010, 2012, 2014, 2016, 2018, 2020, 2022]
y_ticks = [360, 380, 400, 420, 440, 460]

series = [
    ("GAW_Anmyeon", gaw_pts + gaw_dense_pts, "#000000", 4.6),
    ("GOSAT_Anmyeon", gosat_pts, "#0000ff", 4.4),
    ("GOSAT2_Anmyeon", gosat2_pts, "#008000", 4.4),
    ("OCO2_Anmyeon", oco2_pts, "#bf00bf", 4.4),
    ("OCO3_Anmyeon", oco3_pts, "#000000", 4.4),
    ("TCCON_Anmyeon", tccon_pts, "#ff0000", 6.5),
]

fig = go.Figure()
for name, pts, color, size in series:
    xs = [p[0] for p in pts]
    ys = [p[1] for p in pts]
    fig.add_trace(go.Scatter(x=xs, y=ys, mode="markers", name=name,
                             marker=dict(color=color, size=size, line=dict(width=0))))

font_family = "DejaVu Sans, Arial, sans-serif"
fig.update_layout(
    width=1275, height=491,
    margin=dict(l=65, r=26, t=33, b=41, autoexpand=False),
    paper_bgcolor="white", plot_bgcolor="white",
    font=dict(family=font_family, size=11.5, color="#222222"),
    title=dict(text="Ground- vs. Satellite-based CO2 Concentration (2010.1.1. ~ 2021.12.31.)",
               x=0.518, xanchor="center", y=0.962, yanchor="middle",
               font=dict(size=17.5, color="#111111")),
    showlegend=True,
    legend=dict(x=0.004, y=0.999, xanchor="left", yanchor="top",
                bgcolor="rgba(255,255,255,0.85)", bordercolor="#cccccc", borderwidth=1,
                font=dict(size=10, color="#222222"), itemsizing="trace",
                tracegroupgap=0),
)
fig.update_xaxes(range=[2010, 2022], tickvals=x_ticks, ticktext=[str(v) for v in x_ticks],
                 automargin=False,
                 showline=True, mirror=True, linecolor="#222222", linewidth=1,
                 ticks="outside", ticklen=4, tickcolor="#222222",
                 showgrid=True, gridcolor="#b4b4b4", griddash="3px,2px", gridwidth=1,
                 zeroline=False,
                 title=dict(text="Date(2010.1.1. ~ 2021.12.31.)", font=dict(size=14), standoff=10))
fig.update_yaxes(range=[360, 460], tickvals=y_ticks,
                 automargin=False,
                 showline=True, mirror=True, linecolor="#222222", linewidth=1,
                 ticks="outside", ticklen=4, tickcolor="#222222",
                 showgrid=True, gridcolor="#b4b4b4", griddash="3px,2px", gridwidth=1,
                 zeroline=False,
                 title=dict(text="CO2 [ppm]", font=dict(size=14), standoff=12))

fig.write_html("out.html")
